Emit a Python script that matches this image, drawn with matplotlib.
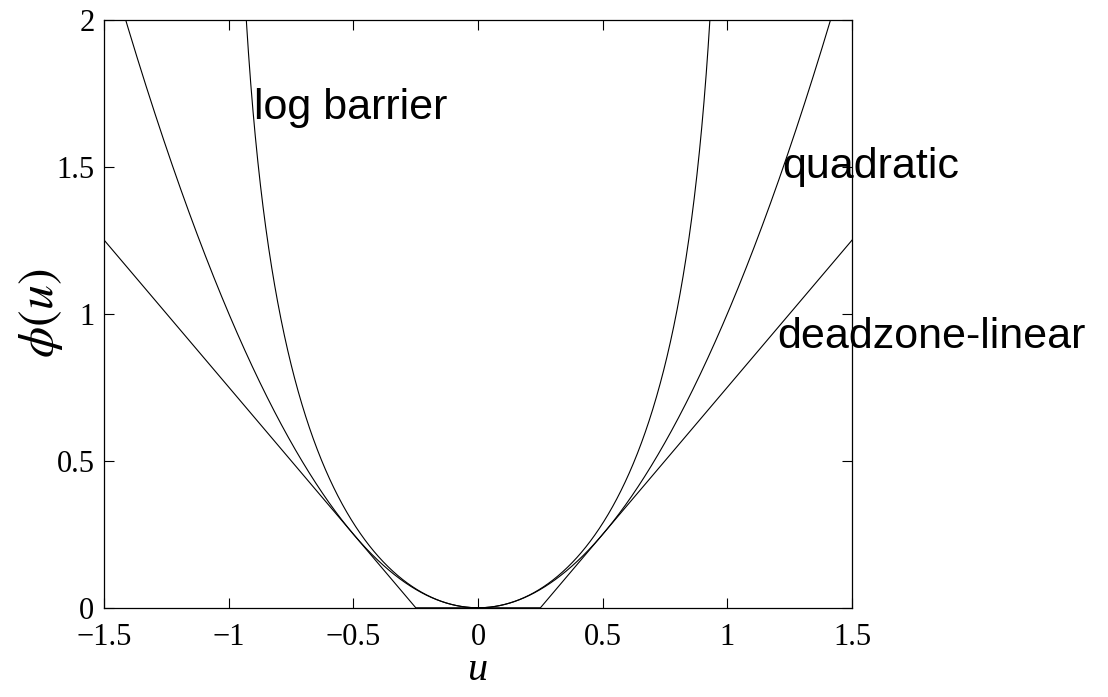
import numpy as np
import matplotlib
matplotlib.use("Agg")
import matplotlib.pyplot as plt

plt.rcParams['mathtext.fontset'] = 'stix'

# penalty function parameters
deadzone_a = 0.25     # deadzone half-width
barrier_a = 1.0       # log barrier limit
u_min, u_max = -1.5, 1.5
phi_max = 2.0

xticks = [-1.5, -1, -0.5, 0, 0.5, 1, 1.5]
yticks = [0, 0.5, 1, 1.5, 2]
labels = ["log barrier", "quadratic", "deadzone-linear"]
label_pos = [(-0.9, 1.7), (1.22, 1.5), (1.2, 0.92)]

u = np.linspace(u_min, u_max, 2001)
quad = u ** 2
dz = np.maximum(0, np.abs(u) - deadzone_a)
ub = u[np.abs(u) < barrier_a * 0.99999]
barrier = -barrier_a ** 2 * np.log(1 - (ub / barrier_a) ** 2)

fig = plt.figure(figsize=(11.08, 6.97), dpi=100)
ax = fig.add_axes([0.094, 0.128, 0.675, 0.844])

for xs, ys in [(u, quad), (u, dz), (ub, barrier)]:
    ax.plot(xs, ys, color='black', lw=0.8)

ax.set_xlim(u_min, u_max)
ax.set_ylim(0, phi_max)
ax.set_xticks(xticks)
ax.set_yticks(yticks)
ax.set_xticklabels([f"{t:g}".replace('-', '\u2212') for t in xticks])
ax.set_yticklabels([f"{t:g}" for t in yticks])
ax.tick_params(direction='in', length=7, width=0.8, top=True, right=True,
               labelsize=22)
ax.tick_params(axis='x', pad=11)
ax.tick_params(axis='y', pad=7)
for lab in ax.get_xticklabels() + ax.get_yticklabels():
    lab.set_family('Liberation Serif')
for s in ax.spines.values():
    s.set_linewidth(0.9)

for txt, (x, y) in zip(labels, label_pos):
    ax.text(x, y, txt, ha='left', va='center', fontsize=31,
            family='Liberation Sans', clip_on=False)

ax.set_xlabel('u', fontsize=29, family='Liberation Serif', style='italic',
              labelpad=0)
ax.set_ylabel(r'$\phi(u)$', fontsize=36, labelpad=-6)

fig.savefig('out.png', dpi=100)
